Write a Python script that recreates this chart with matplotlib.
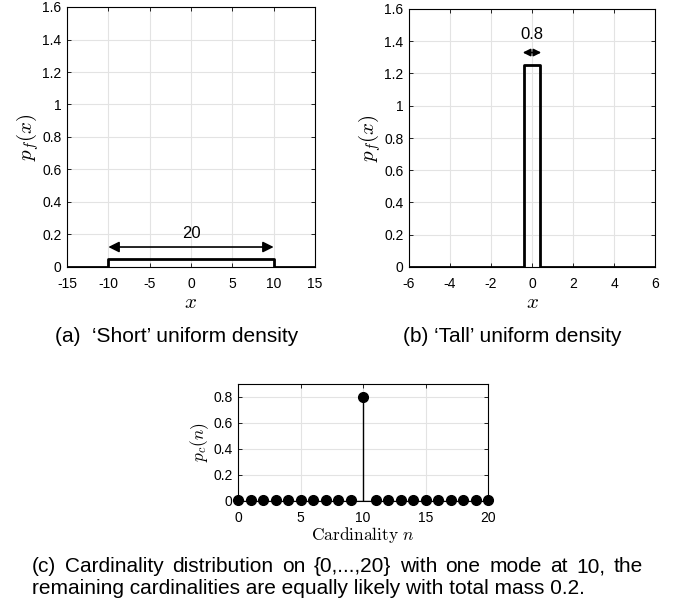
import matplotlib
matplotlib.use('Agg')
import matplotlib.pyplot as plt
import numpy as np

plt.rcParams['font.family'] = ['Liberation Sans', 'DejaVu Sans']
plt.rcParams['mathtext.fontset'] = 'cm'

# short uniform density
short_x = [-15, -10, -10, 10, 10, 15]
short_y = [0, 0, 0.05, 0.05, 0, 0]
short_xticks = [-15, -10, -5, 0, 5, 10, 15]

# tall uniform density
tall_x = [-6, -0.4, -0.4, 0.4, 0.4, 6]
tall_y = [0, 0, 1.25, 1.25, 0, 0]
tall_xticks = [-6, -4, -2, 0, 2, 4, 6]

yticks_top = [0, 0.2, 0.4, 0.6, 0.8, 1, 1.2, 1.4, 1.6]

# cardinality distribution
card_n = np.arange(0, 21)
card_p = [0.01] * 10 + [0.8] + [0.01] * 10
card_xticks = [0, 5, 10, 15, 20]
card_yticks = [0, 0.2, 0.4, 0.6, 0.8]

fig = plt.figure(figsize=(6.83, 6.06), dpi=100)
W, H = 683, 606


def add_ax(l, r, t, b):
    return fig.add_axes([l / W, 1 - b / H, (r - l) / W, (b - t) / H])


def fmt(v):
    return '%g' % v


def style_axes(ax, xlab, ylab, xoff, yoff, labsize):
    ax.grid(True, color='#e3e3e3', linewidth=0.8)
    ax.set_axisbelow(True)
    ax.tick_params(direction='in', top=True, right=True, labelsize=10,
                   length=3, width=0.6)
    ax.tick_params(axis='x', pad=7)
    ax.tick_params(axis='y', pad=4)
    ax.set_xticklabels([fmt(v) for v in ax.get_xticks()])
    ax.set_yticklabels([fmt(v) for v in ax.get_yticks()])
    for s in ax.spines.values():
        s.set_linewidth(0.8)
    ax.set_xlabel(xlab, fontsize=labsize)
    ax.set_ylabel(ylab, fontsize=labsize)
    bb = ax.get_position()
    ax.xaxis.set_label_coords(0.5, -xoff / (bb.height * H))
    ax.xaxis.label.set_va('center')
    ax.yaxis.set_label_coords(-yoff / (bb.width * W), 0.5)
    ax.yaxis.label.set_va('center')


# (a)
ax1 = add_ax(67, 315, 7, 267)
ax1.plot(short_x, short_y, color='black', linewidth=2)
ax1.set_xlim(-15, 15)
ax1.set_ylim(0, 1.6)
ax1.set_xticks(short_xticks)
ax1.set_yticks(yticks_top)
ax1.annotate('', xy=(-10, 0.123), xytext=(10, 0.123),
             arrowprops=dict(arrowstyle='<|-|>', color='black', lw=1.2,
                             mutation_scale=16, shrinkA=0, shrinkB=0))
ax1.text(0, 0.209, '20', ha='center', va='center', fontsize=12)
style_axes(ax1, '$x$', '$p_f(x)$', 36, 39, 15)

# (b)
ax2 = add_ax(409, 655, 9, 267)
ax2.plot(tall_x, tall_y, color='black', linewidth=2)
ax2.set_xlim(-6, 6)
ax2.set_ylim(0, 1.6)
ax2.set_xticks(tall_xticks)
ax2.set_yticks(yticks_top)
ax2.annotate('', xy=(-0.45, 1.33), xytext=(0.45, 1.33),
             arrowprops=dict(arrowstyle='<|-|>', color='black', lw=1.2,
                             mutation_scale=11, shrinkA=0, shrinkB=0))
ax2.text(0, 1.44, '0.8', ha='center', va='center', fontsize=12)
style_axes(ax2, '$x$', '$p_f(x)$', 36, 39, 15)

# (c)
ax3 = add_ax(238, 488, 384, 501)
markerline, stemlines, baseline = ax3.stem(card_n, card_p, basefmt='k-')
plt.setp(markerline, color='black', markersize=7, clip_on=False)
plt.setp(stemlines, color='black', linewidth=1)
plt.setp(baseline, linewidth=1)
ax3.set_xlim(0, 20)
ax3.set_ylim(0, 0.9)
ax3.set_xticks(card_xticks)
ax3.set_yticks(card_yticks)
style_axes(ax3, r'$\mathrm{Cardinality}\ n$', '$p_c(n)$', 34, 38, 12.5)

# captions
fig.text(177 / W, 1 - 337 / H, "(a)  \u2018Short\u2019 uniform density",
         fontsize=15, ha='center', va='center')
fig.text(512 / W, 1 - 337 / H, "(b) \u2018Tall\u2019 uniform density",
         fontsize=15, ha='center', va='center')

line1 = "(c) Cardinality distribution on {0,...,20} with one mode at 10, the"
line2 = "remaining cardinalities are equally likely with total mass 0.2."

# justify the first line between x=32 and x=643
renderer = fig.canvas.get_renderer()
words = line1.split()
texts = [fig.text(0, 1 - 567 / H, w, fontsize=15, ha='left', va='center')
         for w in words]
widths = [t.get_window_extent(renderer).width for t in texts]
gap = (643 - 32 - sum(widths)) / (len(words) - 1)
xpos = 32
for t, w in zip(texts, widths):
    t.set_x(xpos / W)
    xpos += w + gap

fig.text(32 / W, 1 - 588 / H, line2, fontsize=15, ha='left', va='center')

fig.savefig('out.png', dpi=100)
